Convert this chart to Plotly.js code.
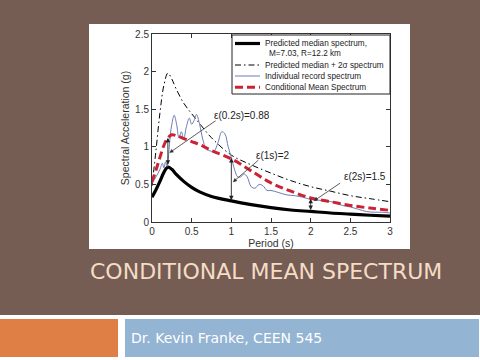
<!DOCTYPE html>
<html>
<head>
<meta charset="utf-8">
<script src="https://cdn.plot.ly/plotly-3.0.1.min.js"></script>
<style>html,body{margin:0;padding:0;background:#765d54;}#chart{width:480px;height:360px;}</style>
</head>
<body>
<div id="chart"></div>
<script>
// ---- data ----
const periods = [0, 0.05, 0.1, 0.15, 0.2, 0.25, 0.3, 0.4, 0.5, 0.6, 0.75, 1.0, 1.25, 1.5, 1.75, 2.0, 2.25, 2.5, 2.75, 3.0];
const medianSa = [0.33, 0.43, 0.54, 0.66, 0.73, 0.70, 0.64, 0.54, 0.46, 0.40, 0.34, 0.28, 0.23, 0.19, 0.16, 0.14, 0.12, 0.105, 0.09, 0.078];
const plus2SigmaSa = [0.48, 0.95, 1.45, 1.82, 1.98, 1.90, 1.78, 1.58, 1.44, 1.31, 1.12, 0.89, 0.76, 0.65, 0.55, 0.47, 0.41, 0.35, 0.31, 0.27];
const cmsSa = [0.53, 0.69, 0.86, 1.02, 1.12, 1.16, 1.15, 1.11, 1.07, 1.03, 0.95, 0.84, 0.68, 0.52, 0.41, 0.32, 0.27, 0.22, 0.185, 0.155];

const recordPeriods = [0, 0.05, 0.1, 0.13, 0.15, 0.17, 0.19, 0.21, 0.23, 0.25, 0.28, 0.31, 0.34, 0.37, 0.40, 0.43, 0.47, 0.50, 0.53, 0.56, 0.60, 0.64, 0.68, 0.72, 0.78, 0.83, 0.88, 0.92, 0.96, 1.0, 1.04, 1.08, 1.12, 1.16, 1.2, 1.25, 1.3, 1.35, 1.4, 1.45, 1.5, 1.6, 1.7, 1.8, 1.9, 2.0, 2.1, 2.2, 2.3, 2.4, 2.5, 2.6, 2.7, 2.8, 2.9, 3.0];
const recordSa = [0.52, 0.6, 0.7, 0.78, 0.72, 0.8, 0.74, 0.9, 1.15, 1.3, 1.42, 1.3, 1.12, 1.2, 1.1, 1.25, 1.38, 1.3, 1.35, 1.43, 1.3, 1.1, 0.98, 0.95, 0.94, 1.05, 1.2, 1.17, 1.0, 0.86, 0.7, 0.6, 0.6, 0.64, 0.6, 0.47, 0.45, 0.5, 0.48, 0.42, 0.42, 0.39, 0.36, 0.35, 0.33, 0.3, 0.29, 0.28, 0.26, 0.22, 0.2, 0.17, 0.14, 0.13, 0.13, 0.12];

const seriesNames = ["Predicted median spectrum,", "Predicted median + 2\u03c3 spectrum", "Individual record spectrum", "Conditional Mean Spectrum"];
const medianSubtitle = "M=7.03, R=12.2 km";

const xTicks = [0, 0.5, 1, 1.5, 2, 2.5, 3];
const xTickLabels = ["0", "0.5", "1", "1.5", "2", "2.5", "3"];
const yTicks = [0, 0.5, 1, 1.5, 2, 2.5];
const yTickLabels = ["0", "0.5", "1", "1.5", "2", "2.5"];

// epsilon labels
const epsLabels = ["\u03b5(0.2s)=0.88", "\u03b5(1s)=2", "\u03b5(2s)=1.5"];
const epsTextX = [1.13, 1.52, 2.68];
const epsTextY = [1.41, 0.89, 0.61];
const epsTipX = [0.22, 1.02, 2.04];
const epsTipY = [0.92, 0.53, 0.28];
const epsTailX = [0.82, 1.36, 2.39];
const epsTailY = [1.36, 0.84, 0.53];

// vertical double arrows between median and CMS at conditioning periods
const condT = [0.2, 1.0, 2.0];
const condLow = [0.74, 0.27, 0.14];
const condHigh = [1.12, 0.85, 0.31];

// ---- styles ----
const font = "Liberation Sans, Arial, sans-serif";
const lineStyles = [
  {color: "#000", width: 3.2},
  {color: "#000", width: 1, dash: "6px,3px,1.5px,3px"},
  {color: "#6d7db5", width: 1},
  {color: "#cc2233", width: 3, dash: "8px,4px"}
];
const traceX = [periods, periods, recordPeriods, periods];
const traceY = [medianSa, plus2SigmaSa, recordSa, cmsSa];

const traces = seriesNames.map((n, i) => ({
  x: traceX[i], y: traceY[i], name: n, mode: "lines", showlegend: false,
  line: Object.assign({shape: "spline"}, lineStyles[i])
}));

const annotations = [];
for (let i = 0; i < epsLabels.length; i++) {
  annotations.push({x: epsTextX[i], y: epsTextY[i], xref: "x", yref: "y", text: epsLabels[i], showarrow: false, font: {family: font, size: 10, color: "#222"}});
  annotations.push({x: epsTipX[i], y: epsTipY[i], ax: epsTailX[i], ay: epsTailY[i], xref: "x", yref: "y", axref: "x", ayref: "y", text: "", showarrow: true, arrowhead: 2, arrowsize: 1, arrowwidth: 0.8, arrowcolor: "#333"});
}
for (let i = 0; i < condT.length; i++) {
  annotations.push({x: condT[i], y: condHigh[i], ax: condT[i], ay: condLow[i], xref: "x", yref: "y", axref: "x", ayref: "y", text: "", showarrow: true, arrowhead: 2, arrowside: "end+start", arrowsize: 1, arrowwidth: 0.9, arrowcolor: "#222"});
}

// ---- custom compact legend (paper coordinates) ----
const PX = v => v / 480, PY = v => 1 - v / 360;
const legRowsY = [43.5, 65, 76, 87.3];
const shapes = [
  {type: "rect", xref: "paper", yref: "paper", x0: PX(89), x1: PX(410), y0: PY(249), y1: PY(24), fillcolor: "#ffffff", line: {width: 0}, layer: "below"},
  {type: "rect", xref: "paper", yref: "paper", x0: 0, x1: 1, y0: 0, y1: PY(315), fillcolor: "#ffffff", line: {width: 0}, layer: "below"},
  {type: "rect", xref: "paper", yref: "paper", x0: 0, x1: PX(118), y0: PY(357), y1: PY(319), fillcolor: "#e07f45", line: {width: 0}, layer: "below"},
  {type: "rect", xref: "paper", yref: "paper", x0: PX(125), x1: PX(479), y0: PY(357), y1: PY(319), fillcolor: "#94b4d3", line: {width: 0}, layer: "below"},
  {type: "rect", xref: "paper", yref: "paper", x0: PX(232), x1: PX(390), y0: PY(94), y1: PY(35), fillcolor: "#ffffff", line: {color: "#222", width: 1}, layer: "above"}
];
for (let i = 0; i < seriesNames.length; i++) {
  shapes.push({type: "line", xref: "paper", yref: "paper", x0: PX(235), x1: PX(260), y0: PY(legRowsY[i]), y1: PY(legRowsY[i]), line: lineStyles[i], layer: "above"});
  annotations.push({x: PX(263), y: PY(legRowsY[i]), xref: "paper", yref: "paper", xanchor: "left", yanchor: "middle", text: seriesNames[i], showarrow: false, font: {family: font, size: 8.2, color: "#222"}});
}
annotations.push({x: PX(267), y: PY(53.5), xref: "paper", yref: "paper", xanchor: "left", yanchor: "middle", text: medianSubtitle, showarrow: false, font: {family: font, size: 8.2, color: "#222"}});

// slide texts
annotations.push({x: PX(266), y: PY(271), xref: "paper", yref: "paper", text: "CONDITIONAL MEAN SPECTRUM", showarrow: false, xanchor: "center", yanchor: "middle", font: {family: "DejaVu Sans", size: 22, color: "#f4dcc6"}});
annotations.push({x: PX(129), y: PY(338), xref: "paper", yref: "paper", text: "Dr. Kevin Franke, CEEN 545", showarrow: false, xanchor: "left", yanchor: "middle", font: {family: "DejaVu Sans", size: 14, color: "#ffffff"}});

const axisCommon = {
  showgrid: false, zeroline: false, showline: true, linecolor: "#333", linewidth: 1,
  mirror: "ticks", ticks: "inside", ticklen: 4, tickcolor: "#333",
  tickfont: {family: font, size: 10, color: "#333"}, automargin: false, fixedrange: true
};

const layout = {
  width: 480, height: 360,
  margin: {l: 0, r: 0, t: 0, b: 0},
  paper_bgcolor: "#765d54", plot_bgcolor: "#ffffff",
  xaxis: Object.assign({}, axisCommon, {domain: [PX(152), PX(390)], range: [0, 3], tickvals: xTicks, ticktext: xTickLabels,
    title: {text: "Period (s)", font: {family: font, size: 10.5, color: "#333"}, standoff: 0}}),
  yaxis: Object.assign({}, axisCommon, {domain: [PY(222), PY(34)], range: [0, 2.5], tickvals: yTicks, ticktext: yTickLabels,
    title: {text: "Spectral Acceleration (g)", font: {family: font, size: 10.5, color: "#333"}, standoff: 3}}),
  showlegend: false,
  annotations: annotations,
  shapes: shapes
};

Plotly.newPlot("chart", traces, layout, {displayModeBar: false, staticPlot: true});
</script>
</body>
</html>
